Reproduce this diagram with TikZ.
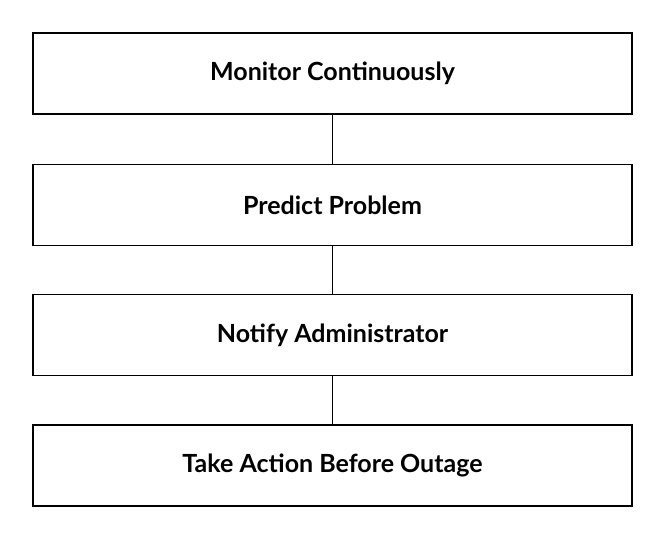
\documentclass[tikz,border=0pt]{standalone}
\usepackage{fontspec}
\setmainfont{Lato}
\tikzstyle{bS}=[rectangle,minimum width = 299.5pt,minimum height = 40.5pt,inner sep = 0pt,draw,line width=0.7pt, font=\fontsize{12.5}{14}\selectfont\bfseries,align=center]
\tikzstyle{lS}=[line width=0.7pt]

\begin{document}
\begin{tikzpicture}[x=0.5pt,y=-0.5pt]
                \useasboundingbox (0,0) rectangle (668,540);
                \draw (332.5,73.5) node[bS] (b0) {Monitor Continuously};
                \draw (332.5,205) node[bS] (b1) {Predict Problem};
                \draw (332.5,335) node[bS] (b2) {Notify Administrator};
                \draw (332.5,465.5) node[bS] (b3) {Take Action Before Outage};
                \path
                    (b0) edge[lS] (b1)
                    (b1) edge[lS] (b2)
                    (b2) edge[lS] (b3)
                ;
        \end{tikzpicture}
\end{document}
